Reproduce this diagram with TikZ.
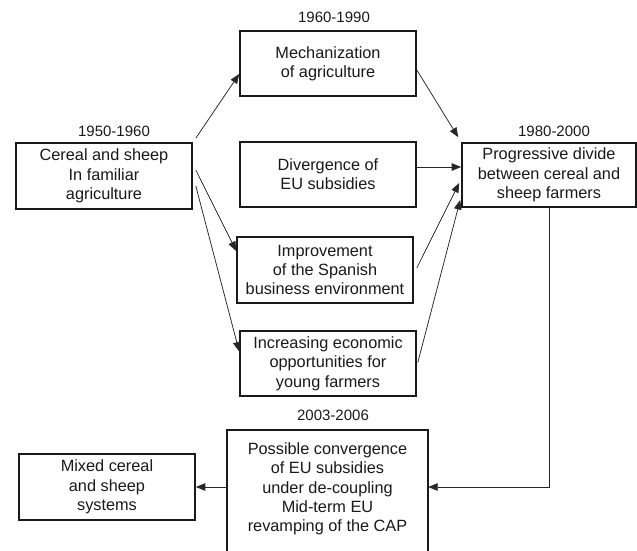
\documentclass[tikz,border=0pt]{standalone}
\usepackage{fontspec}
\setmainfont{Liberation Sans}
\usetikzlibrary{arrows.meta,calc}
\begin{document}
\begin{tikzpicture}[x=1pt,y=-1pt,
  box/.style={draw=black!90, line width=1.6pt, rectangle, align=center, inner sep=0pt,
    font=\fontsize{16.3}{19.3}\selectfont, text=black!90},
  plain/.style={rectangle, align=center, inner sep=0pt,
    font=\fontsize{16.3}{19.3}\selectfont, text=black!90},
  yearlbl/.style={inner sep=0pt, font=\fontsize{15}{18}\selectfont, text=black!90},
  conn/.style={draw=black!85, line width=0.75pt, -{Triangle[length=9.5pt,width=7.5pt]}},
  boxline/.style={draw=black!90, line width=1.6pt}
]
\useasboundingbox (0,0) rectangle (637,551);
\clip (0,0) rectangle (637,551);

\node[box, minimum width=176, minimum height=66] (cs) at (104,176) {Cereal and sheep\\In familiar\\agriculture};
\node[box, minimum width=176, minimum height=65] (mech) at (328,63.5) {Mechanization\\of agriculture};
\node[box, minimum width=176, minimum height=65] (div) at (328,174.5) {Divergence of\\EU subsidies};
\node[box, minimum width=176, minimum height=66] (impr) at (325,270) {Improvement\\of the Spanish\\business environment};
\node[box, minimum width=176, minimum height=65] (incr) at (328,363.5) {Increasing economic\\opportunities for\\young farmers};
\node[box, minimum width=174, minimum height=64] (prog) at (549,175) {Progressive divide\\between cereal and\\sheep farmers};
\node[plain, minimum width=201, minimum height=118] (poss) at (327.5,489) {Possible convergence\\of EU subsidies\\under de-coupling\\Mid-term EU\\revamping of the CAP};
\draw[boxline] ($(poss.south west)+(0,20)$) -- (poss.north west) -- (poss.north east) -- ($(poss.south east)+(0,20)$);
\node[box, minimum width=176, minimum height=66] (mixed) at (107,487) {Mixed cereal\\and sheep\\systems};

\node[yearlbl] (y1) at (114,131) {1950-1960};
\node[yearlbl] (y2) at (334,17) {1960-1990};
\node[yearlbl] (y3) at (554,131) {1980-2000};
\node[yearlbl] (y4) at (333,415) {2003-2006};

\draw[conn] ($(cs.north east)+(3,-4)$) -- ($(mech.west)+(0,10.5)$);
\draw[conn] ($(cs.east)+(3,-6)$) -- ($(impr.west)+(0,-19)$);
\draw[conn] ($(cs.east)+(3,10)$) -- ($(incr.west)+(0,-12)$);
\draw[conn] ($(mech.east)+(0,6.5)$) -- ($(prog.north west)+(-3,-5)$);
\draw[conn] ($(div.east)+(0,-7.5)$) -- ($(prog.west)+(0,-8)$);
\draw[conn] ($(impr.east)+(3,-2)$) -- ($(prog.west)+(-2,8)$);
\draw[conn] ($(incr.east)+(1,-1)$) -- ($(prog.west)+(-1,25)$);
\draw[conn] (prog.south) |- ($(poss.east)+(0,-2)$);
\draw[conn] (poss.west |- mixed.east) -- (mixed.east);
\end{tikzpicture}
\end{document}
